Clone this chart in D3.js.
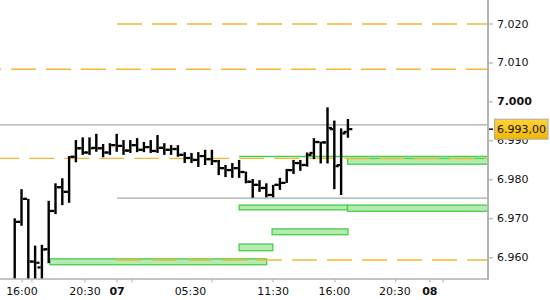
<!DOCTYPE html>
<html><head><meta charset="utf-8">
<script src="https://cdn.jsdelivr.net/npm/d3@7/dist/d3.min.js"></script>
<style>html,body{margin:0;padding:0;background:#fff;}svg{display:block;}</style>
</head><body>
<script>
// ---- data ----
const opens  = [6.9530,6.9692,6.9751,6.9590,6.9575,6.9622,6.9720,6.9781,6.9769,6.9859,6.9881,6.9870,6.9882,6.9881,6.9870,6.9889,6.9887,6.9875,6.9889,6.9877,6.9884,6.9874,6.9882,6.9877,6.9879,6.9864,6.9856,6.9851,6.9861,6.9853,6.9848,6.9830,6.9825,6.9830,6.9820,6.9795,6.9787,6.9779,6.9761,6.9787,6.9792,6.9825,6.9843,6.9838,6.9869,6.9897,6.9896,6.9930,6.9838,6.9923];
const highs  = [6.9701,6.9776,6.9751,6.9631,6.9633,6.9746,6.9791,6.9804,6.9861,6.9902,6.9909,6.9909,6.9918,6.9892,6.9894,6.9918,6.9902,6.9902,6.9907,6.9897,6.9902,6.9915,6.9894,6.9889,6.9889,6.9871,6.9869,6.9871,6.9877,6.9877,6.9851,6.9838,6.9843,6.9851,6.9821,6.9802,6.9799,6.9791,6.9787,6.9805,6.9828,6.9851,6.9851,6.9870,6.9907,6.9898,6.9986,6.9952,6.9932,6.9956];
const lows   = [6.9517,6.9682,6.9517,6.9517,6.9517,6.9586,6.9712,6.9735,6.9741,6.9845,6.9864,6.9864,6.9872,6.9858,6.9864,6.9872,6.9864,6.9869,6.9871,6.9871,6.9869,6.9869,6.9864,6.9864,6.9859,6.9843,6.9843,6.9833,6.9838,6.9838,6.9812,6.9807,6.9805,6.9805,6.9791,6.9754,6.9769,6.9755,6.9755,6.9774,6.9792,6.9815,6.9823,6.9834,6.9853,6.9842,6.9842,6.9776,6.9761,6.9908];
const closes = [6.9692,6.9751,6.9590,6.9587,6.9621,6.9720,6.9781,6.9769,6.9859,6.9881,6.9870,6.9881,6.9881,6.9870,6.9889,6.9887,6.9875,6.9889,6.9877,6.9884,6.9874,6.9882,6.9877,6.9879,6.9864,6.9856,6.9851,6.9861,6.9853,6.9848,6.9830,6.9825,6.9830,6.9820,6.9795,6.9787,6.9779,6.9761,6.9787,6.9792,6.9825,6.9843,6.9838,6.9864,6.9897,6.9896,6.9933,6.9835,6.9919,6.9930];

const yTickValues = [6.960, 6.970, 6.980, 6.990, 7.000, 7.010, 7.020];
const yTickLabels = ["6.960","6.970","6.980","6.990","7.000","7.010","7.020"];
const yTickBold   = [false,false,false,false,true,false,false];

const xTickPositions = [1.07, 2.54, 10.34, 15.05, 17.25, 29.0, 37.99, 47.1, 56.05, 61.05, 62.98];
const xLabelPositions = [1.07, 10.34, 15.05, 25.85, 37.99, 47.0, 55.9, 61.05];
const xLabels = ["16:00","20:30","07","05:30","11:30","16:00","20:30","08"];
const xLabelBold = [false,false,true,false,false,false,false,true];

const lastPrice = 6.993;
const lastPriceLabel = "6.993,00";

const dashLevels = [7.0200, 7.0084, 6.9855, 6.9594];
const dashStarts = [15.05, null, null, 15.05];
const grayLevels = [6.9941, 6.9753];
const grayStarts = [null, 15.05];
const greenLineLevels = [6.9860];
const greenLineStarts = [33];
const boxTops    = [6.9597, 6.9635, 6.9674, 6.9735, 6.9735, 6.9855];
const boxBottoms = [6.9582, 6.9618, 6.9659, 6.9723, 6.9719, 6.9840];
const boxStarts  = [5.2, 33, 37.85, 33, 48.95, 48.95];
const boxEnds    = [37.05, 37.95, 49, 48.95, null, null];

// ---- layout ----
const W = 550, H = 300;
const plotRight = 488, plotBottom = 279;
const xDomain = [-2.162, 69.6];
const x = d3.scaleLinear().domain(xDomain).range([0, plotRight]);
const y = d3.scaleLinear().domain([6.96, 7.02]).range([257.7, 24.0]);

const svg = d3.select("body").append("svg").attr("width", W).attr("height", H)
  .style("font-family", "'DejaVu Sans', Verdana, sans-serif");
svg.append("rect").attr("width", W).attr("height", H).attr("fill", "#fff");

const defs = svg.append("defs");
defs.append("clipPath").attr("id","plotclip").append("rect")
  .attr("x",0).attr("y",0).attr("width",plotRight-1).attr("height",plotBottom);
const grad = defs.append("linearGradient").attr("id","gold").attr("x1",0).attr("y1",0).attr("x2",0).attr("y2",1);
grad.append("stop").attr("offset","0%").attr("stop-color","#ffd43a");
grad.append("stop").attr("offset","100%").attr("stop-color","#f2b600");

const plot = svg.append("g").attr("clip-path","url(#plotclip)");

// boxes
const boxes = boxTops.map((t,i)=>({t, b: boxBottoms[i], s: boxStarts[i], e: boxEnds[i]==null ? xDomain[1] : boxEnds[i]}));
plot.selectAll("rect.box").data(boxes).join("rect").attr("class","box")
  .attr("x", d=>x(d.s)).attr("y", d=>y(d.t))
  .attr("width", d=>x(d.e)-x(d.s)).attr("height", d=>y(d.b)-y(d.t))
  .attr("fill","#b3ebb3").attr("stroke","#52cf52").attr("stroke-width",1.4);

// gray solid lines
plot.selectAll("line.gray").data(grayLevels.map((v,i)=>({v, s: grayStarts[i]==null ? xDomain[0] : grayStarts[i]})))
  .join("line").attr("class","gray")
  .attr("x1", d=>x(d.s)).attr("x2", plotRight)
  .attr("y1", d=>y(d.v)).attr("y2", d=>y(d.v))
  .attr("stroke","#aaaaaa").attr("stroke-width",1.3);

// green line
plot.selectAll("line.green").data(greenLineLevels.map((v,i)=>({v, s: greenLineStarts[i]})))
  .join("line").attr("class","green")
  .attr("x1", d=>x(d.s)).attr("x2", plotRight)
  .attr("y1", d=>y(d.v)).attr("y2", d=>y(d.v))
  .attr("stroke","#4ccc4c").attr("stroke-width",1.4);

// orange dashed lines
const dashOffsets = [0, 24, 5.7, 0];
plot.selectAll("line.dash").data(dashLevels.map((v,i)=>({v, s: dashStarts[i]==null ? xDomain[0] : dashStarts[i], off: dashOffsets[i]})))
  .join("line").attr("class","dash")
  .attr("x1", d=>x(d.s)).attr("x2", plotRight)
  .attr("y1", d=>y(d.v)).attr("y2", d=>y(d.v))
  .attr("stroke","#f7b733").attr("stroke-width",1.4)
  .attr("stroke-dasharray","25 10").attr("stroke-dashoffset", d=>d.off);

// OHLC bars
const bars = opens.map((o,i)=>({i, o, h: highs[i], l: lows[i], c: closes[i]}));
const bw = 2.4, tl = 3.2, th = 2.2;
const bg = plot.append("g").attr("fill","#000");
bars.forEach(d=>{
  const cx = x(d.i);
  bg.append("rect").attr("x", cx-bw/2).attr("y", y(d.h)).attr("width", bw).attr("height", Math.max(1, y(d.l)-y(d.h)));
  bg.append("rect").attr("x", cx-bw/2-tl).attr("y", y(d.o)-th/2).attr("width", tl).attr("height", th);
  bg.append("rect").attr("x", cx+bw/2).attr("y", y(d.c)-th/2).attr("width", tl).attr("height", th);
});

// axes lines
svg.append("line").attr("x1",0).attr("x2",plotRight).attr("y1",plotBottom).attr("y2",plotBottom)
  .attr("stroke","#b0b0b0").attr("stroke-width",1.4);
svg.append("line").attr("x1",plotRight).attr("x2",plotRight).attr("y1",0).attr("y2",plotBottom+0.7)
  .attr("stroke","#b4b4b4").attr("stroke-width",2);

// x ticks
svg.selectAll("line.xt").data(xTickPositions).join("line").attr("class","xt")
  .attr("x1", d=>x(d)).attr("x2", d=>x(d)).attr("y1", plotBottom).attr("y2", plotBottom+3.5)
  .attr("stroke","#b0b0b0").attr("stroke-width",1);
svg.selectAll("text.xl").data(xLabels).join("text").attr("class","xl")
  .attr("x", (d,i)=>x(xLabelPositions[i])).attr("y", 291)
  .attr("text-anchor","middle").attr("dominant-baseline","central")
  .attr("font-size", 11).attr("font-weight", (d,i)=>xLabelBold[i] ? "bold" : "normal")
  .attr("fill","#111").text(d=>d);

// y ticks
svg.selectAll("line.yt").data(yTickValues).join("line").attr("class","yt")
  .attr("x1", plotRight+1).attr("x2", plotRight+5).attr("y1", d=>y(d)).attr("y2", d=>y(d))
  .attr("stroke","#b0b0b0").attr("stroke-width",1.2);
svg.selectAll("text.yl").data(yTickLabels).join("text").attr("class","yl")
  .attr("x", 497).attr("y", (d,i)=>y(yTickValues[i]))
  .attr("dominant-baseline","central")
  .attr("font-size", 11).attr("font-weight", (d,i)=>yTickBold[i] ? "bold" : "normal")
  .attr("fill","#111").text(d=>d);

// last price marker
const py = y(lastPrice);
svg.append("line").attr("x1", plotRight+1).attr("x2", plotRight+5).attr("y1", py).attr("y2", py)
  .attr("stroke","#000").attr("stroke-width",1.4);
svg.append("rect").attr("x", 494.5).attr("y", py-10).attr("width", 53.5).attr("height", 20)
  .attr("fill","url(#gold)").attr("stroke","#a8a8a8").attr("stroke-width",1);
svg.append("text").attr("x", 497).attr("y", py).attr("dominant-baseline","central")
  .attr("font-size", 11).attr("fill","#111").text(lastPriceLabel);
</script>
</body></html>
